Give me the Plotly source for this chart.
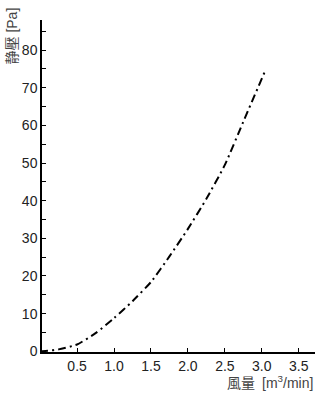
import plotly.graph_objects as go

# Data
flow = [0.0, 0.1, 0.25, 0.5, 0.75, 1.0, 1.25, 1.5, 1.75, 2.0, 2.25, 2.5, 2.75, 3.05]
pressure = [0.0, 0.1, 0.5, 1.8, 4.8, 8.8, 13.3, 18.4, 25.2, 32.5, 40.5, 49.5, 61.0, 74.7]

x_ticks = [0.5, 1.0, 1.5, 2.0, 2.5, 3.0, 3.5]
x_ticktext = ["0.5", "1.0", "1.5", "2.0", "2.5", "3.0", "3.5"]
y_ticks = [0, 10, 20, 30, 40, 50, 60, 70, 80]

FONT = "Liberation Sans, Arial, Noto Sans CJK JP, sans-serif"

fig = go.Figure()
fig.add_trace(go.Scatter(
    x=flow, y=pressure, mode="lines",
    line=dict(color="black", width=2, dash="8px,4px,2px,4px", shape="spline", smoothing=0.5),
    cliponaxis=False, showlegend=False,
))

fig.update_layout(
    width=331, height=400,
    margin=dict(l=42, r=16, t=20, b=48),
    paper_bgcolor="white", plot_bgcolor="white",
    font=dict(family=FONT, size=14, color="#222"),
    xaxis=dict(
        range=[0.025, 3.72], showgrid=False, zeroline=False,
        showline=True, linecolor="black", linewidth=1.5,
        tickmode="array", tickvals=x_ticks, ticktext=x_ticktext,
        ticks="inside", ticklen=4, tickwidth=1, tickcolor="black",
        tickfont=dict(size=14, color="#222"),
    ),
    yaxis=dict(
        range=[-0.2, 88], showgrid=False, zeroline=False,
        showline=True, linecolor="black", linewidth=1.5,
        tickmode="array", tickvals=y_ticks,
        ticks="inside", ticklen=4, tickwidth=1, tickcolor="black",
        minor=dict(dtick=5, tick0=5, ticks="inside", ticklen=4, tickwidth=1, tickcolor="black", showgrid=False),
        tickfont=dict(size=14, color="#222"),
    ),
    annotations=[
        dict(text="静壓 [Pa]", textangle=-90, xref="paper", yref="paper",
             x=0, y=1, xanchor="center", yanchor="top", xshift=-31, yshift=14,
             showarrow=False, font=dict(family=FONT, size=14, color="#444")),
        dict(text="風量\u2002[m<sup>3</sup>/min]", xref="paper", yref="paper",
             x=1, y=0, xanchor="right", yanchor="middle", yshift=-30,
             showarrow=False, font=dict(family=FONT, size=14, color="#444")),
    ],
)

fig.write_html("out.html")
